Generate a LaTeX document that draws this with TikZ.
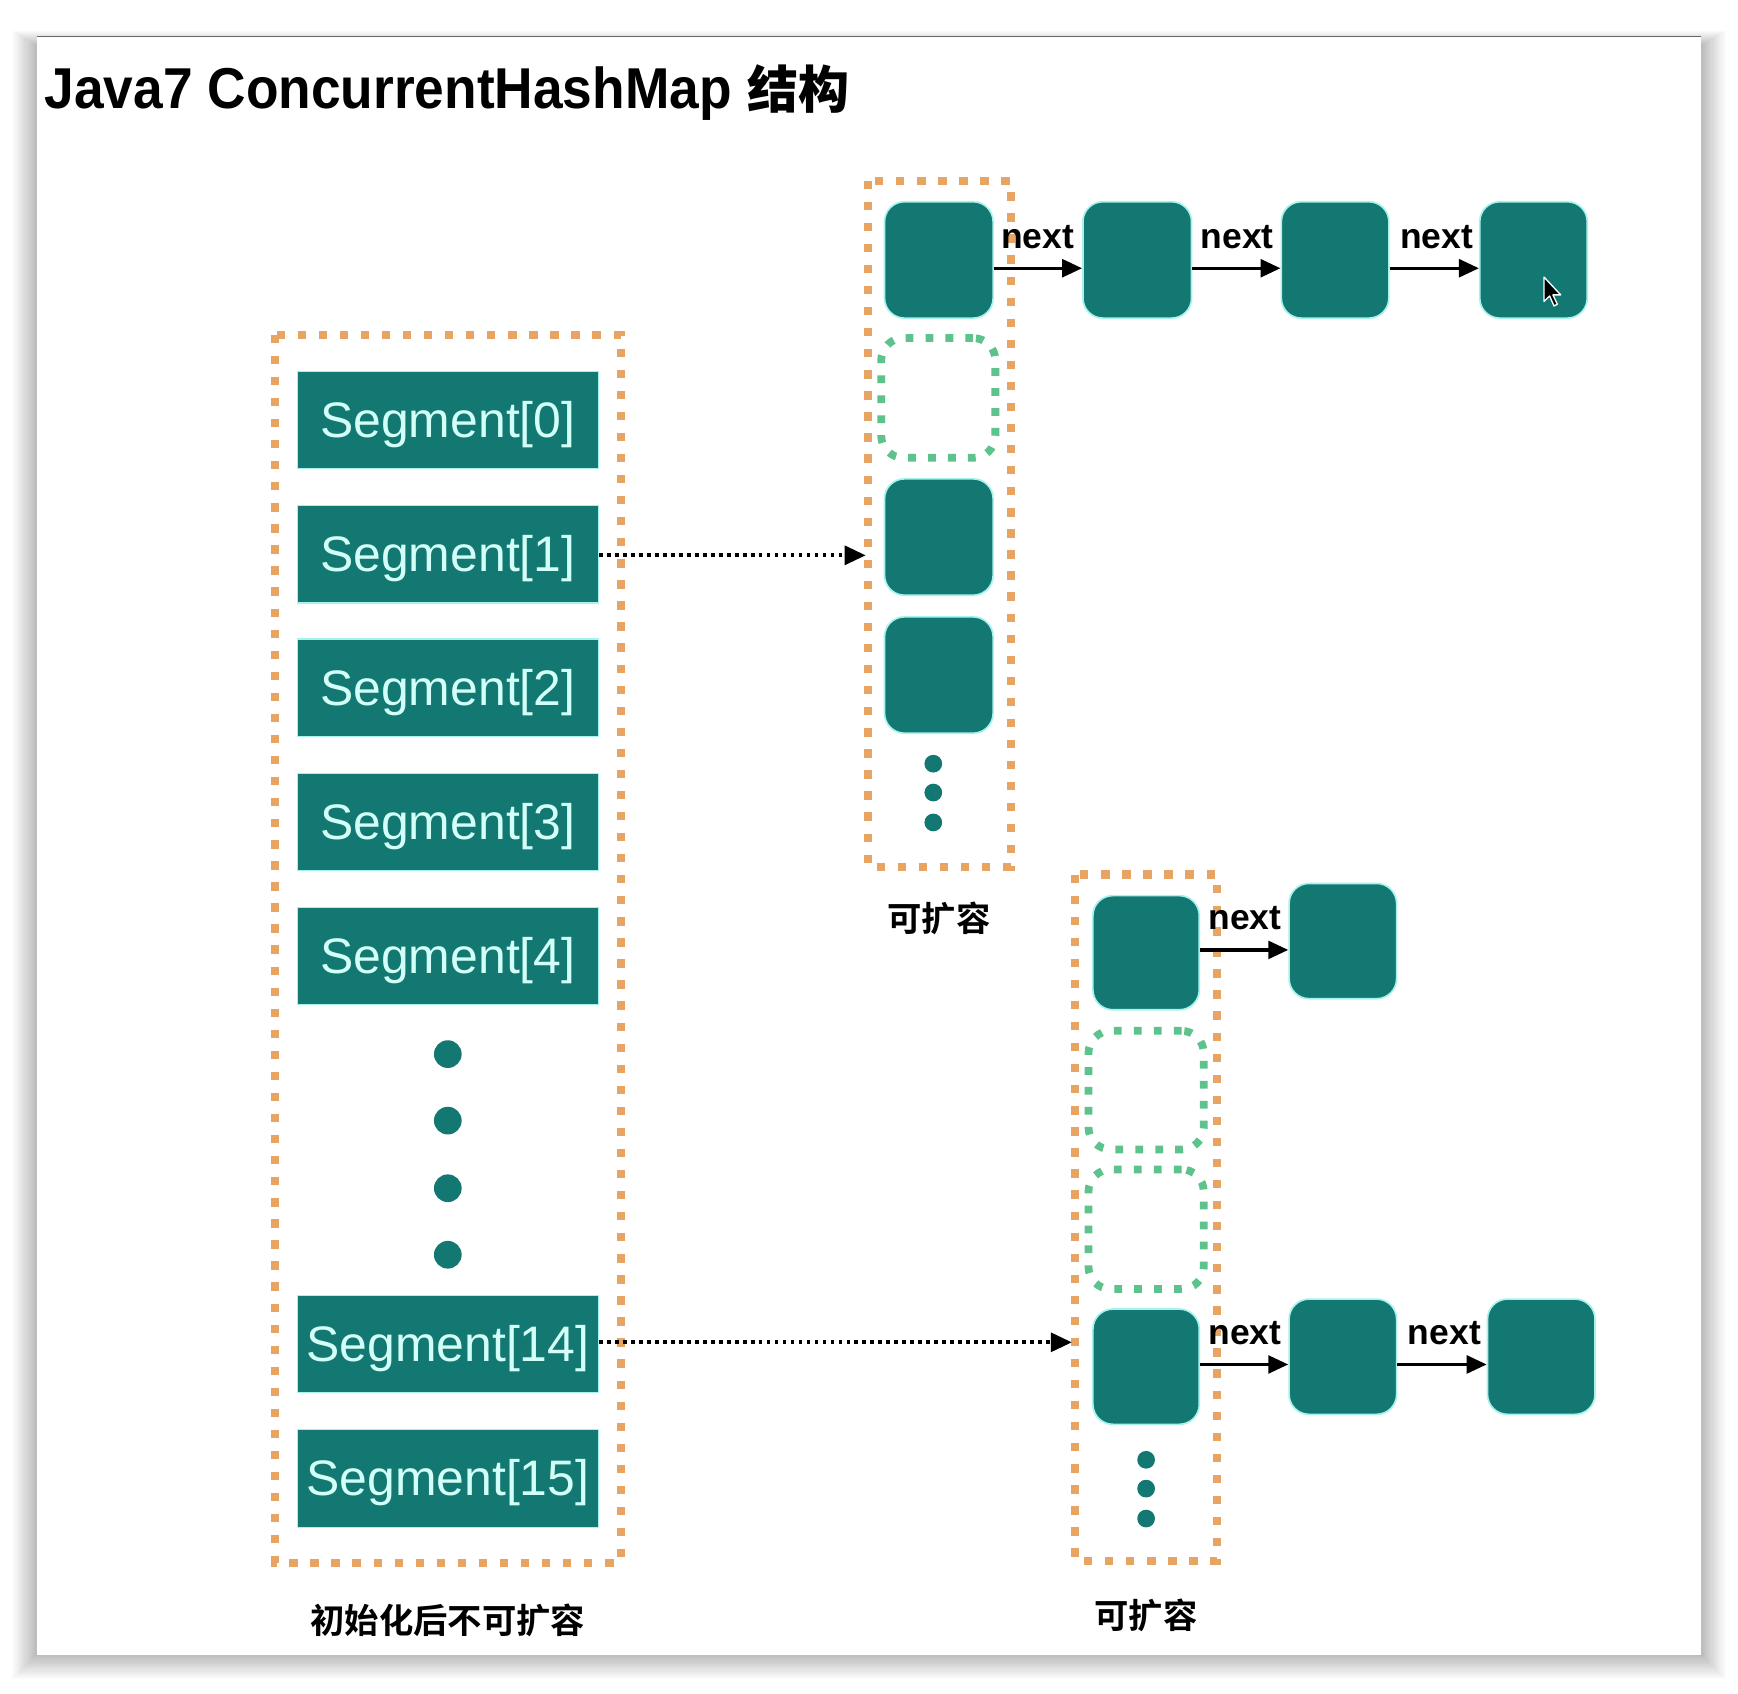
\documentclass[tikz,border=0pt]{standalone}
\usepackage{fontspec}
\setmainfont{Liberation Sans}
\newfontfamily\cjkb{Noto Sans CJK SC Bold}
\usetikzlibrary{arrows.meta}
\definecolor{teal1}{HTML}{137872}
\definecolor{segtxt}{HTML}{D2FFF7}
\definecolor{glow}{HTML}{A6F2EC}
\definecolor{orng}{HTML}{E8A462}
\definecolor{grn}{HTML}{5DC28C}
\newcommand{\segtext}[1]{\raisebox{-4pt}[\height][\depth]{#1}}
\tikzset{
  segbox/.style={fill=teal1, draw=glow, line width=1pt, minimum width=272pt, minimum height=88pt, inner sep=0pt,
     text=segtxt, font=\fontsize{45}{45}\selectfont},
  entry/.style={fill=teal1, draw=glow, line width=1.5pt, rounded corners=18pt, inner sep=0pt},
  emptyslot/.style={draw=grn, line width=7pt, dash pattern=on 7pt off 11pt, rounded corners=20pt, inner sep=0pt},
  orangebox/.style={draw=orng, line width=7.5pt, dash pattern=on 7.5pt off 11.5pt},
  dotdot/.style={fill=teal1, draw=none},
  nextarrow/.style={draw=black, line width=3pt, -{Triangle[length=18pt,width=16pt]}},
  dotarrow/.style={draw=black, line width=3.4pt, dash pattern=on 3.4pt off 3.8pt, -{Triangle[length=19pt,width=17pt]}},
  nextlbl/.style={font=\fontsize{32}{32}\selectfont\bfseries, inner sep=0pt, anchor=base west},
  cnlbl/.style={font=\cjkb\fontsize{31}{31}\selectfont, inner sep=0pt},
}
\begin{document}
\begin{tikzpicture}[x=1pt,y=-1pt]
\useasboundingbox (0,0) rectangle (1568,1528);
\fill[white] (0,0) rectangle (1568,1528);
% card shadow
\foreach \i in {1,...,22}{
  \fill[black, opacity=0.012] (33-\i,33-0.6*\i+8) rectangle (1535+\i,1493+\i);
}
\fill[white] (33,33) rectangle (1535,1493);
\draw[gray!80!black, line width=1.2pt] (33,33) -- (1535,33);

% title
\node[anchor=base west, inner sep=0pt, font=\fontsize{52}{52}\selectfont\bfseries] (title) at (40,98)
  {\scalebox{0.925}[1]{Java7 ConcurrentHashMap}\hspace{14pt}{\cjkb\fontsize{46}{46}\selectfont 结构}};

% left box
\draw[orangebox] (248,302) rectangle (560,1410);
\node[segbox] (s0) at (404,379) {\segtext{Segment[0]}};
\node[segbox] (s1) at (404,500) {\segtext{Segment[1]}};
\node[segbox] (s2) at (404,620.5) {\segtext{Segment[2]}};
\node[segbox] (s3) at (404,741.5) {\segtext{Segment[3]}};
\node[segbox] (s4) at (404,862.5) {\segtext{Segment[4]}};
\node[segbox] (s14) at (404,1212.5) {\segtext{Segment[14]}};
\node[segbox] (s15) at (404,1334) {\segtext{Segment[15]}};
\foreach \y in {951,1011,1072,1132}{ \fill[dotdot] (404,\y) circle (12.5pt); }
\node[cnlbl] (lblL) at (404,1462) {初始化后不可扩容};

% top right box
\draw[orangebox] (783,163) rectangle (912,782);
\node[entry, minimum width=98pt, minimum height=105pt] (a0) at (847,234.5) {};
\node[emptyslot, minimum width=103pt, minimum height=108pt] (a1) at (846.5,359) {};
\node[entry, minimum width=98pt, minimum height=105pt] (a2) at (847,484.5) {};
\node[entry, minimum width=98pt, minimum height=105pt] (a3) at (847,609) {};
\foreach \y in {689,715,742}{ \fill[dotdot] (842,\y) circle (8pt); }
\node[cnlbl] (lblA) at (847,829) {可扩容};
\node[entry, minimum width=98pt, minimum height=105pt] (c1) at (1026,234.5) {};
\node[entry, minimum width=97pt, minimum height=105pt] (c2) at (1204.5,234.5) {};
\node[entry, minimum width=97pt, minimum height=105pt] (c3) at (1383.5,234.5) {};
\coordinate (ya) at (0,242);
\draw[nextarrow] (a0.east |- ya) -- (c1.west |- ya);
\draw[nextarrow] (c1.east |- ya) -- (c2.west |- ya);
\draw[nextarrow] (c2.east |- ya) -- (c3.west |- ya);
\node[nextlbl] (n1) at (903,224) {next};
\node[nextlbl] (n2) at (1083,224) {next};
\node[nextlbl] (n3) at (1263,224) {next};
% mouse cursor
\draw[fill=black, draw=white, line width=1.2pt, line join=round]
  (1393,250) -- (1393,272) -- (1398,267) -- (1402,276) -- (1405,274.5) -- (1401,266) -- (1408,266) -- cycle;

% bottom right box
\draw[orangebox] (970,789) rectangle (1098,1408);
\node[entry, minimum width=96pt, minimum height=103pt] (b0) at (1034,859.5) {};
\node[emptyslot, minimum width=104pt, minimum height=107pt] (b1) at (1034,983.5) {};
\node[emptyslot, minimum width=104pt, minimum height=108pt] (b2) at (1034,1109) {};
\node[entry, minimum width=96pt, minimum height=104pt] (b3) at (1034,1233) {};
\foreach \y in {1317,1343,1370}{ \fill[dotdot] (1034,\y) circle (8pt); }
\node[cnlbl] (lblB) at (1034,1457) {可扩容};
\node[entry, minimum width=97pt, minimum height=104pt] (d1) at (1211.5,849) {};
\node[entry, minimum width=97pt, minimum height=104pt] (e1) at (1211.5,1224) {};
\node[entry, minimum width=97pt, minimum height=104pt] (e2) at (1390.5,1224) {};
\coordinate (yb) at (0,857);
\coordinate (yc) at (0,1231);
\draw[nextarrow] (b0.east |- yb) -- (d1.west |- yb);
\draw[nextarrow] (b3.east |- yc) -- (e1.west |- yc);
\draw[nextarrow] (e1.east |- yc) -- (e2.west |- yc);
\node[nextlbl] (n4) at (1090,839) {next};
\node[nextlbl] (n5) at (1090,1213) {next};
\node[nextlbl] (n6) at (1270,1213) {next};

% dotted connectors
\coordinate (t1) at (781,501);
\coordinate (t14) at (967,1211);
\draw[dotarrow] (s1.east |- t1) -- (t1);
\draw[dotarrow] (s14.east |- t14) -- (t14);
\end{tikzpicture}
\end{document}
